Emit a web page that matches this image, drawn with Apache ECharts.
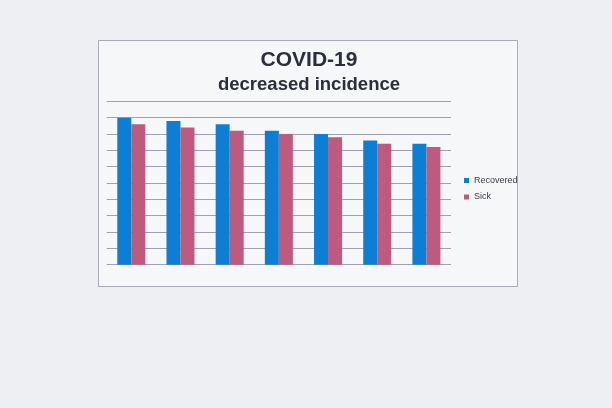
<!DOCTYPE html>
<html>
<head>
<meta charset="utf-8">
<script src="https://cdn.jsdelivr.net/npm/echarts@6/dist/echarts.min.js"></script>
<style>
html,body{margin:0;padding:0;background:#eeeff2;}
#c{width:612px;height:408px;}
</style>
</head>
<body>
<div id="c"></div>
<script>
const categories = ['1', '2', '3', '4', '5', '6', '7'];
const recovered = [9.0, 8.8, 8.6, 8.2, 8.0, 7.6, 7.4];
const sick = [8.6, 8.4, 8.2, 8.0, 7.8, 7.4, 7.2];
const titleText = 'COVID-19';
const subtitleText = 'decreased incidence';

const chart = echarts.init(document.getElementById('c'), null, {renderer: 'canvas'});
chart.setOption({
  backgroundColor: '#eeeff2',
  animation: false,
  graphic: [{
    type: 'rect',
    z: -10,
    shape: {x: 98.5, y: 40.5, width: 419, height: 246},
    style: {fill: '#f6f7f9', stroke: '#a9acb8', lineWidth: 1}
  }],
  title: {
    text: titleText,
    subtext: subtitleText,
    left: 304,
    textAlign: 'center',
    top: 45,
    itemGap: 4,
    textStyle: {fontFamily: 'Liberation Sans', fontWeight: 'bold', fontSize: 21, color: '#2b2e3b'},
    subtextStyle: {fontFamily: 'Liberation Sans', fontWeight: 'bold', fontSize: 18.5, color: '#2b2e3b'}
  },
  legend: {
    orient: 'vertical',
    left: 459,
    top: 171,
    itemWidth: 5,
    itemHeight: 5,
    itemGap: 7.5,
    icon: 'rect',
    textStyle: {fontFamily: 'Liberation Sans', fontSize: 9, color: '#3a3d48'},
    data: ['Recovered', 'Sick']
  },
  grid: {left: 106.7, right: 161, top: 101.3, bottom: 143.3, containLabel: false},
  xAxis: {
    type: 'category',
    data: categories,
    axisLine: {show: false},
    axisTick: {show: false},
    axisLabel: {show: false}
  },
  yAxis: {
    type: 'value',
    min: 0, max: 10, interval: 1,
    axisLabel: {show: false},
    axisLine: {show: false},
    axisTick: {show: false},
    splitLine: {lineStyle: {color: '#9fa2ae', width: 1}}
  },
  series: [
    {name: 'Recovered', type: 'bar', data: recovered, barWidth: 14, barGap: '0%', itemStyle: {color: '#0c7fd5'}},
    {name: 'Sick', type: 'bar', data: sick, barWidth: 14, itemStyle: {color: '#bd5a7d'}}
  ]
});
</script>
</body>
</html>
